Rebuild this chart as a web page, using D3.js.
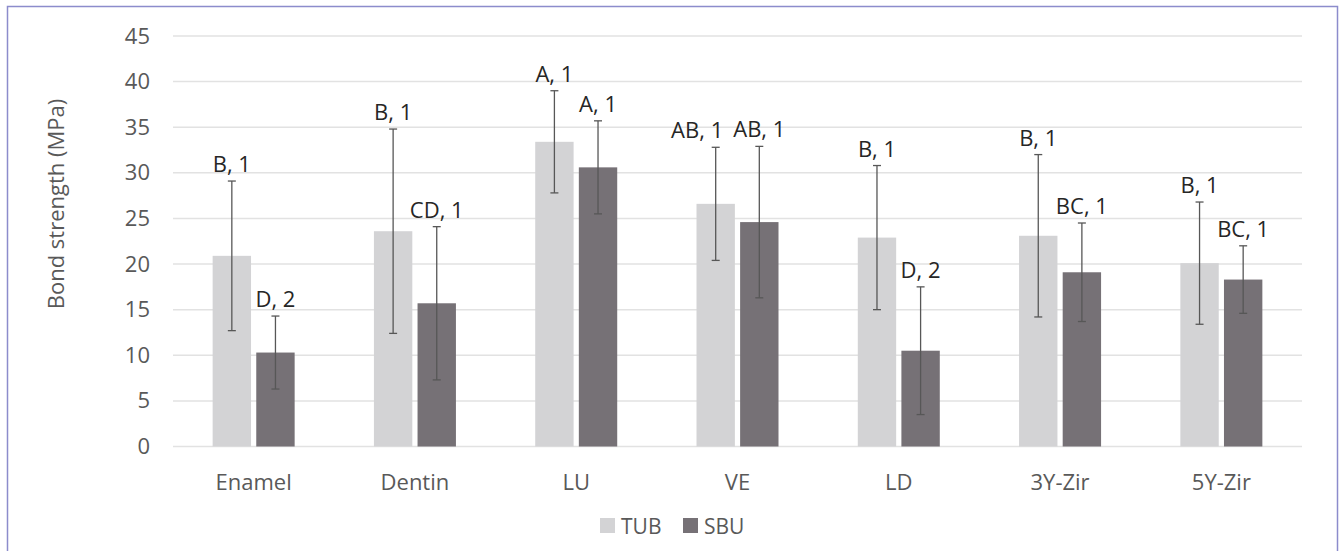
<!DOCTYPE html>
<html>
<head>
<meta charset="utf-8">
<script src="https://cdn.jsdelivr.net/npm/d3@7"></script>
<style>
  html, body { margin: 0; padding: 0; background: #fff; }
  svg { display: block; font-family: "Open Sans", sans-serif; }
</style>
</head>
<body>
<div id="chart"></div>
<script>
// data
const categories = ["Enamel", "Dentin", "LU", "VE", "LD", "3Y-Zir", "5Y-Zir"];
const series = ["TUB", "SBU"];
const tubMean = [20.9, 23.6, 33.4, 26.6, 22.9, 23.1, 20.1];
const tubSD   = [8.2, 11.2, 5.6, 6.2, 7.9, 8.9, 6.7];
const sbuMean = [10.3, 15.7, 30.6, 24.6, 10.5, 19.1, 18.3];
const sbuSD   = [4.0, 8.4, 5.1, 8.3, 7.0, 5.4, 3.7];
const tubLabels = ["B, 1", "B, 1", "A, 1", "AB, 1", "B, 1", "B, 1", "B, 1"];
const sbuLabels = ["D, 2", "CD, 1", "A, 1", "AB, 1", "D, 2", "BC, 1", "BC, 1"];
const yTicks = [0, 5, 10, 15, 20, 25, 30, 35, 40, 45];

const W = 1344, H = 551;
const colors = { TUB: "#d3d3d5", SBU: "#767176" };

const svg = d3.select("#chart").append("svg")
  .attr("width", W).attr("height", H);

// frame
svg.append("rect")
  .attr("x", 7.5).attr("y", 6.5)
  .attr("width", 1330).attr("height", 560)
  .attr("fill", "none").attr("stroke", "#8c8ccc").attr("stroke-width", 1.5);

const pLeft = 173, pRight = 1302, pTop = 36, pBottom = 446.5;

const y = d3.scaleLinear().domain([0, 45]).range([pBottom, pTop]);
const x0 = d3.scaleBand().domain(categories).range([pLeft, pRight]).padding(0);
const bw = x0.bandwidth();
const x1 = d3.scaleBand().domain(series)
  .range([bw / 2 - 41, bw / 2 + 41]).paddingInner(0.12);

// gridlines
svg.append("g")
  .selectAll("line").data(yTicks).enter().append("line")
  .attr("x1", pLeft).attr("x2", pRight)
  .attr("y1", d => y(d)).attr("y2", d => y(d))
  .attr("stroke", "#e2e2e2").attr("stroke-width", 1.5);

// y tick labels
svg.append("g")
  .selectAll("text").data(yTicks).enter().append("text")
  .attr("x", 150).attr("y", d => y(d) + 7.5)
  .attr("text-anchor", "end")
  .attr("font-size", 22).attr("fill", "#595959")
  .text(d => d);

// y title
svg.append("text")
  .attr("transform", "translate(64,204) rotate(-90)")
  .attr("text-anchor", "middle")
  .attr("font-size", 22).attr("fill", "#595959")
  .text("Bond strength (MPa)");

// rows for bars
const rows = [];
categories.forEach((c, i) => {
  rows.push({ cat: c, s: "TUB", v: tubMean[i], sd: tubSD[i], lab: tubLabels[i] });
  rows.push({ cat: c, s: "SBU", v: sbuMean[i], sd: sbuSD[i], lab: sbuLabels[i] });
});
const cx = d => x0(d.cat) + x1(d.s) + x1.bandwidth() / 2;

svg.append("g")
  .selectAll("rect").data(rows).enter().append("rect")
  .attr("x", d => x0(d.cat) + x1(d.s))
  .attr("y", d => y(d.v))
  .attr("width", x1.bandwidth())
  .attr("height", d => y(0) - y(d.v))
  .attr("fill", d => colors[d.s]);

// error bars
const err = svg.append("g").attr("stroke", "#575757").attr("stroke-width", 1.3);
err.selectAll(".v").data(rows).enter().append("line")
  .attr("x1", cx).attr("x2", cx)
  .attr("y1", d => y(d.v + d.sd)).attr("y2", d => y(d.v - d.sd));
err.selectAll(".t").data(rows).enter().append("line")
  .attr("x1", d => cx(d) - 4).attr("x2", d => cx(d) + 4)
  .attr("y1", d => y(d.v + d.sd)).attr("y2", d => y(d.v + d.sd));
err.selectAll(".b").data(rows).enter().append("line")
  .attr("x1", d => cx(d) - 4).attr("x2", d => cx(d) + 4)
  .attr("y1", d => y(d.v - d.sd)).attr("y2", d => y(d.v - d.sd));

// group letters
const labs = svg.append("g")
  .selectAll("text").data(rows).enter().append("text")
  .attr("x", cx)
  .attr("y", d => y(d.v + d.sd) - 9)
  .attr("text-anchor", "middle")
  .attr("font-size", 22).attr("fill", "#262626")
  .text(d => d.lab);

// push a TUB label left when it would run into its SBU neighbour at the same height
const nodes = labs.nodes();
for (let i = 0; i < nodes.length; i += 2) {
  const a = nodes[i].getBBox(), b = nodes[i + 1].getBBox();
  const sameRow = Math.abs(a.y - b.y) < a.height;
  const gap = b.x - (a.x + a.width);
  if (sameRow && gap < 10) {
    d3.select(nodes[i]).attr("x", +d3.select(nodes[i]).attr("x") - (10 - gap));
  }
}

// x labels
svg.append("g")
  .selectAll("text").data(categories).enter().append("text")
  .attr("x", d => x0(d) + bw / 2)
  .attr("y", 490)
  .attr("text-anchor", "middle")
  .attr("font-size", 22).attr("fill", "#595959")
  .text(d => d);

// legend
const leg = svg.append("g").selectAll("g").data(series).enter().append("g")
  .attr("transform", (d, i) => `translate(${600 + i * 83},518)`);
leg.append("rect").attr("width", 15).attr("height", 15)
  .attr("fill", d => colors[d]);
leg.append("text").attr("x", 21).attr("y", 15.5)
  .attr("font-size", 21).attr("fill", "#595959")
  .text(d => d);
</script>
</body>
</html>
